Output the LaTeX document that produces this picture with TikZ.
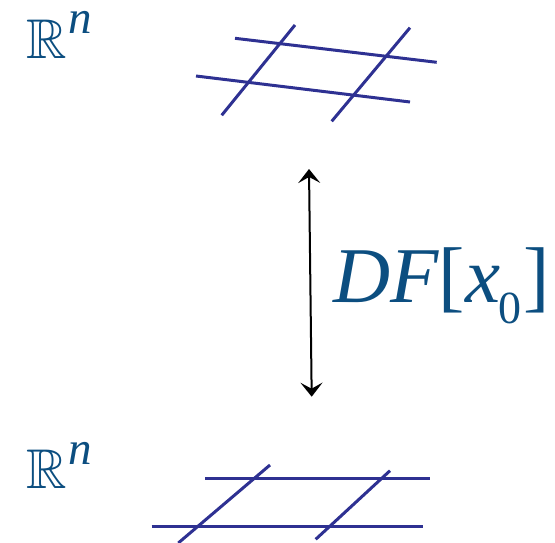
\documentclass[tikz,border=0pt]{standalone}
\usepackage{amssymb}
\usepackage{fontspec}
\setmainfont{Liberation Serif}
\usetikzlibrary{arrows.meta}
\definecolor{labelblue}{RGB}{12,78,128}
\definecolor{gridblue}{RGB}{46,49,146}
\begin{document}
\begin{tikzpicture}[x=1pt,y=-1pt,
  gridline/.style={draw=gridblue,line width=3pt},
  lbl/.style={inner sep=0pt,outer sep=0pt,text=labelblue,anchor=base west},
  maparrow/.style={draw=black,line width=2pt,{Stealth[length=14pt,width=22pt,inset=6pt]}-{Stealth[length=14pt,width=22pt,inset=6pt]}}]
\useasboundingbox (0,0) rectangle (555,543);
% top grid
\draw[gridline] (235,38.3) -- (436.7,62.3);
\draw[gridline] (196,76) -- (410,102);
\draw[gridline] (295,25) -- (221.7,115.3);
\draw[gridline] (410,27.7) -- (331.7,121.3);
% bottom grid
\draw[gridline] (205,478.3) -- (430,478.3);
\draw[gridline] (151.7,526.3) -- (422.7,526.3);
\draw[gridline] (270,465) -- (178.3,543);
\draw[gridline] (390,470.7) -- (315.7,539.3);
% labels
\node[lbl,scale=5.6] (Rtop) at (26.7,58.3) {$\mathbb{R}$};
\node[lbl] (ntop) at (68,34) {\fontsize{47}{47}\selectfont\itshape n};
\node[lbl,scale=5.6] (Rbot) at (26.7,488.3) {$\mathbb{R}$};
\node[lbl] (nbot) at (68,464) {\fontsize{47}{47}\selectfont\itshape n};
\node[lbl] (map) at (333,302) {\fontsize{79}{79}\selectfont\textit{DF}[\textit{x}\kern-2pt\raisebox{-21pt}{\fontsize{46}{46}\selectfont 0}\kern2pt]};
% arrow
\coordinate (atop) at (309,169);
\coordinate (abot) at (311.7,396.7);
\draw[maparrow] (atop) -- (abot);
\end{tikzpicture}
\end{document}
